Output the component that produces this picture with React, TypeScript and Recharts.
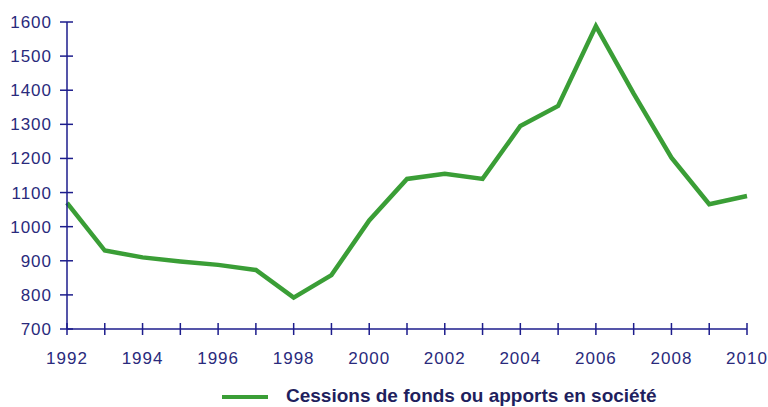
import React from 'react';
import { LineChart, Line, XAxis, YAxis, Legend } from 'recharts';

const years = [1992, 1993, 1994, 1995, 1996, 1997, 1998, 1999, 2000, 2001, 2002, 2003, 2004, 2005, 2006, 2007, 2008, 2009, 2010];
const cessions = [1070, 930, 910, 898, 888, 873, 792, 858, 1018, 1140, 1155, 1140, 1295, 1354, 1588, 1390, 1202, 1066, 1090];
const yTicks = [700, 800, 900, 1000, 1100, 1200, 1300, 1400, 1500, 1600];
const seriesName = 'Cessions de fonds ou apports en société';

const AXIS = '#1d1d8c';
const TEXT = '#2a2a7c';
const GREEN = '#3a9e36';
const FONT = '"Liberation Sans", Arial, sans-serif';

const data = years.map((y, i) => ({ year: y, value: cessions[i] }));

const YTick = ({ x, y, payload }: any) => (
  <g>
    <line x1={x - 7} x2={x + 6} y1={y} y2={y} stroke={AXIS} strokeWidth={1.5} />
    <text x={x - 15} y={y} dy={6} textAnchor="end" fill={TEXT} fontSize={17} letterSpacing={1} fontFamily={FONT}>
      {payload.value}
    </text>
  </g>
);

const XTick = ({ x, y, payload }: any) => (
  <g>
    <line x1={x} x2={x} y1={y - 6} y2={y + 6} stroke={AXIS} strokeWidth={1.5} />
    {payload.value % 2 === 0 && (
      <text x={x} y={y + 29} dy={6} textAnchor="middle" fill={TEXT} fontSize={17} letterSpacing={1} fontFamily={FONT}>
        {payload.value}
      </text>
    )}
  </g>
);

const LegendContent = () => (
  <svg width={768} height={48}>
    <line x1={222} x2={268} y1={38} y2={38} stroke={GREEN} strokeWidth={4} />
    <text x={286} y={43} fill="#1f1f5e" fontSize={19} fontWeight="bold" fontFamily={FONT}>
      {seriesName}
    </text>
  </svg>
);

export default function App() {
  return (
    <div style={{ position: 'absolute', left: 0, top: 0, background: '#fff' }}>
      <LineChart width={768} height={407} data={data} margin={{ top: 22, right: 21, left: 0, bottom: 0 }}>
        <XAxis
          dataKey="year"
          type="number"
          domain={[1992, 2010]}
          ticks={years}
          interval={0}
          height={30}
          tickSize={0}
          tickMargin={0}
          axisLine={{ stroke: AXIS, strokeWidth: 1.5 }}
          tickLine={false}
          tick={<XTick />}
        />
        <YAxis
          domain={[700, 1600]}
          ticks={yTicks}
          interval={0}
          width={67}
          tickSize={0}
          tickMargin={0}
          axisLine={{ stroke: AXIS, strokeWidth: 1.5 }}
          tickLine={false}
          tick={<YTick />}
        />
        <Legend verticalAlign="bottom" wrapperStyle={{ height: 48, left: 0, width: 768 }} content={<LegendContent />} />
        <Line
          type="linear"
          dataKey="value"
          name={seriesName}
          stroke={GREEN}
          strokeWidth={4.5}
          dot={false}
          isAnimationActive={false}
        />
      </LineChart>
    </div>
  );
}
